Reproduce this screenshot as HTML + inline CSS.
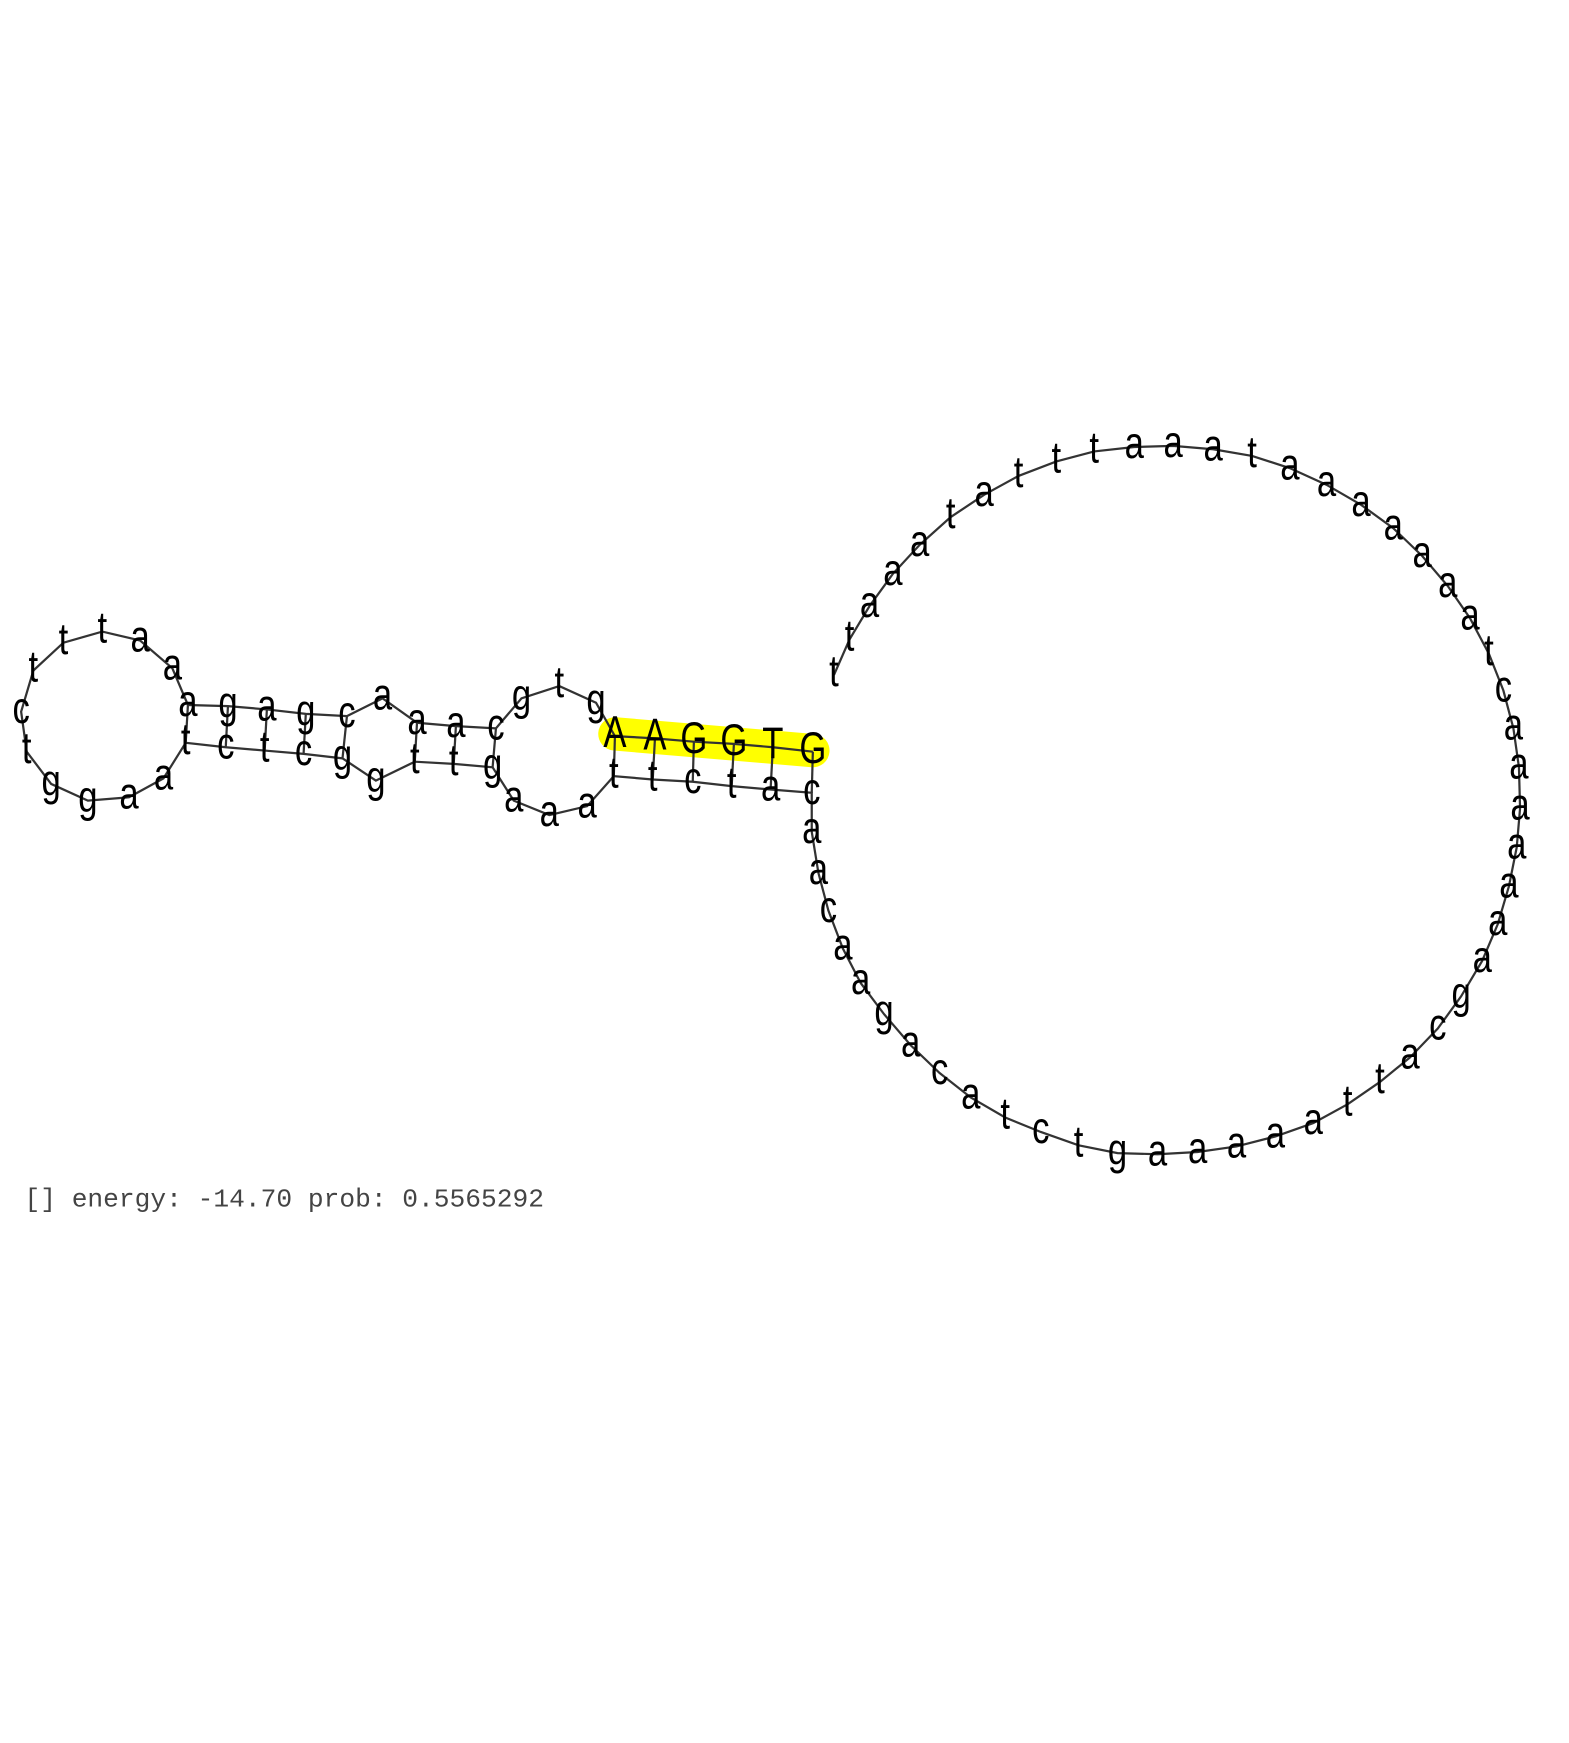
<!DOCTYPE html>
<html><head><meta charset="utf-8"><style>html,body{margin:0;padding:0;background:#fff}svg{display:block}</style></head>
<body>
<svg id="s" xmlns="http://www.w3.org/2000/svg" width="1569" height="1743" viewBox="0 0 1411 1567.5">
<rect width="1411" height="1567.5" fill="#fff"/>
<line x1="553" y1="660" x2="731" y2="675" stroke="#ffff00" stroke-width="30" stroke-linecap="round"/>
<g id="lines" stroke="#333" stroke-width="2" fill="none"></g>
<g id="txt" font-family="Liberation Sans, sans-serif" font-size="40" fill="#000"></g>
<text x="22" y="1085" font-family="Liberation Mono, monospace" font-size="23.6" fill="#444">[] energy: -14.70 prob: 0.5565292</text>
</svg>
<script>
var back=[["t",750,607],["t",764,575],["a",782,545],["a",803,516],["a",827,490],["t",855,465],["a",885,445],["t",916,428],["t",950,415],["t",984,406],["a",1020,402],["a",1055,401],["a",1091,404],["t",1126,410],["a",1160,421],["a",1193,436],["a",1224,454],["a",1253,475],["a",1279,500],["a",1302,527],["a",1322,556],["t",1339,588],["c",1352,621],["a",1361,655],["a",1366,690],["a",1367,727],["a",1364,762],["a",1357,797],["a",1347,831],["a",1333,864],["g",1314,896],["c",1293,925],["a",1268,951],["t",1241,973],["t",1212,993],["a",1181,1010],["a",1147,1022],["a",1112,1031],["a",1077,1036],["a",1041,1038],["g",1005,1037],["t",970,1030],["c",936,1018],["t",904,1005],["a",873,987],["c",845,965],["a",819,940],["g",795,912],["a",774,884],["a",758,853],["c",745,819],["a",736,785],["a",730,748],["c",730,713],
["a",693,710],["t",658,707],["c",623,703],["t",587,701],["t",552,698],["a",528,725],["a",494,733],["a",462,720],["g",443,690],["t",408,687],["t",373,685],["g",338,702],["g",308,682],["c",273,678],["t",238,675],["c",203,672],["t",167,668],["a",147,700],["a",116,717],["g",79,720],["g",46,705],["t",24,676],["c",19,640],["t",30,603],["t",57,578],["t",92,568],["a",126,576],["a",155,601],["a",169,634],["g",205,635],["a",240,638],["g",275,642],["c",312,644],["a",344,628],["a",375,650],["a",410,653],["c",446,655],["g",469,628],["t",503,617],["g",536,632],["A",553,662],["A",589,664],["G",624,667],["G",660,669],["T",695,672],["G",731,676]];
var pairs=[[169,634,167,668],[205,635,203,672],[240,638,238,675],[275,642,273,678],[312,644,308,682],[375,650,373,685],[410,653,408,687],[446,655,443,690],[553,662,552,698],[589,664,587,701],[624,667,623,703],[660,669,658,707],[695,672,693,710],[731,676,730,713]];
var NS="http://www.w3.org/2000/svg",L=document.getElementById("lines"),T=document.getElementById("txt");
var p=document.createElementNS(NS,"polyline");p.setAttribute("points",back.map(function(b){return b[1]+","+b[2]}).join(" "));L.appendChild(p);
pairs.forEach(function(q){var l=document.createElementNS(NS,"line");l.setAttribute("x1",q[0]);l.setAttribute("y1",q[1]);l.setAttribute("x2",q[2]);l.setAttribute("y2",q[3]);L.appendChild(l);});
back.forEach(function(b){var t=document.createElementNS(NS,"text");t.setAttribute("transform","translate("+b[1]+","+(b[2]+10)+") scale(0.78,1)");t.setAttribute("text-anchor","middle");t.textContent=b[0];T.appendChild(t);});
</script>
</body></html>
